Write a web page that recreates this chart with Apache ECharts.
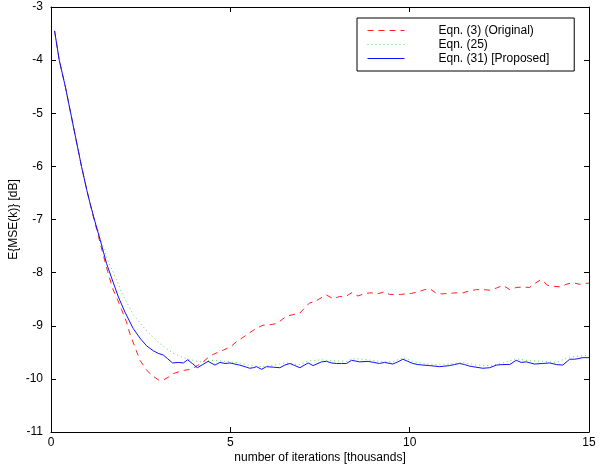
<!DOCTYPE html>
<html>
<head>
<meta charset="utf-8">
<script src="https://cdn.jsdelivr.net/npm/echarts@6/dist/echarts.min.js"></script>
<style>
  html, body { margin: 0; padding: 0; background: #fff; }
  #chart { width: 600px; height: 466px; }
</style>
</head>
<body>
<div id="chart"></div>
<script>
// Learning curves: expected MSE (dB) versus iterations (thousands)
const originalIter = [0.1, 0.23, 0.4, 0.55, 0.7, 0.85, 1.0, 1.18, 1.3, 1.43, 1.58, 1.72, 1.85, 1.97, 2.1, 2.2, 2.35, 2.48, 2.65, 2.8, 3.0, 3.13, 3.27, 3.41, 3.55, 3.69, 3.92, 4.08, 4.24, 4.38, 4.52, 4.66, 4.8, 5.0, 5.17, 5.35, 5.54, 5.72, 5.91, 6.1, 6.29, 6.45, 6.57, 6.75, 6.94, 7.08, 7.21, 7.35, 7.49, 7.68, 7.86, 8.05, 8.24, 8.38, 8.56, 8.75, 8.93, 9.1, 9.3, 9.44, 9.75, 10.05, 10.25, 10.42, 10.56, 10.74, 10.9, 11.11, 11.3, 11.49, 11.68, 11.86, 12.05, 12.23, 12.42, 12.6, 12.79, 12.97, 13.15, 13.34, 13.5, 13.67, 13.85, 14.05, 14.23, 14.36, 14.55, 14.74, 14.92, 15.0];
const originalMse = [-3.45, -4.0, -4.5, -5.0, -5.5, -6.0, -6.45, -6.95, -7.25, -7.6, -7.98, -8.3, -8.5, -8.7, -8.92, -9.15, -9.42, -9.65, -9.82, -9.93, -10.02, -10.02, -9.97, -9.9, -9.87, -9.84, -9.82, -9.75, -9.68, -9.6, -9.54, -9.5, -9.46, -9.4, -9.3, -9.22, -9.13, -9.05, -8.99, -8.98, -8.96, -8.88, -8.82, -8.79, -8.76, -8.66, -8.57, -8.55, -8.49, -8.42, -8.49, -8.45, -8.44, -8.38, -8.44, -8.39, -8.38, -8.4, -8.36, -8.41, -8.41, -8.39, -8.36, -8.32, -8.3, -8.39, -8.4, -8.39, -8.38, -8.38, -8.34, -8.32, -8.32, -8.33, -8.29, -8.24, -8.32, -8.28, -8.27, -8.28, -8.2, -8.13, -8.24, -8.26, -8.27, -8.22, -8.19, -8.22, -8.2, -8.2];

const eq25Iter = [0.1, 0.23, 0.4, 0.55, 0.7, 0.85, 1.0, 1.18, 1.3, 1.42, 1.55, 1.78, 2.01, 2.29, 2.67, 3.04, 3.41, 3.78, 4.15, 4.52, 4.99, 5.25, 5.54, 5.87, 6.2, 6.52, 6.94, 7.17, 7.54, 7.82, 8.24, 8.38, 8.7, 9.16, 9.53, 9.81, 10.09, 10.37, 10.74, 11.11, 11.49, 11.85, 12.23, 12.6, 12.97, 13.34, 13.71, 14.09, 14.46, 14.92, 15.0];
const eq25Mse = [-3.45, -4.0, -4.5, -5.0, -5.5, -6.0, -6.45, -6.92, -7.18, -7.43, -7.72, -8.07, -8.43, -8.79, -9.1, -9.34, -9.52, -9.62, -9.68, -9.65, -9.68, -9.7, -9.75, -9.77, -9.74, -9.7, -9.73, -9.66, -9.64, -9.66, -9.67, -9.62, -9.63, -9.67, -9.68, -9.6, -9.67, -9.71, -9.73, -9.72, -9.69, -9.74, -9.75, -9.7, -9.62, -9.66, -9.67, -9.69, -9.59, -9.56, -9.56];

const proposedIter = [0.1, 0.23, 0.4, 0.55, 0.7, 0.85, 1.0, 1.09, 1.23, 1.37, 1.55, 1.69, 1.88, 2.06, 2.29, 2.5, 2.67, 2.85, 2.99, 3.13, 3.25, 3.39, 3.55, 3.69, 3.81, 3.94, 4.08, 4.23, 4.38, 4.57, 4.71, 4.85, 4.99, 5.12, 5.26, 5.45, 5.54, 5.64, 5.73, 5.87, 6.01, 6.2, 6.38, 6.52, 6.66, 6.8, 6.94, 7.17, 7.31, 7.54, 7.68, 7.82, 7.96, 8.1, 8.24, 8.38, 8.61, 8.84, 9.0, 9.16, 9.3, 9.53, 9.67, 9.81, 9.95, 10.09, 10.23, 10.37, 10.56, 10.84, 11.11, 11.25, 11.39, 11.53, 11.67, 11.85, 12.04, 12.23, 12.42, 12.6, 12.79, 12.97, 13.11, 13.25, 13.48, 13.71, 13.9, 14.09, 14.27, 14.46, 14.6, 14.69, 14.83, 15.0];
const proposedMse = [-3.45, -4.0, -4.5, -5.0, -5.5, -6.0, -6.45, -6.7, -7.05, -7.38, -7.83, -8.1, -8.46, -8.74, -9.05, -9.25, -9.38, -9.47, -9.52, -9.55, -9.62, -9.7, -9.69, -9.7, -9.64, -9.71, -9.79, -9.73, -9.67, -9.74, -9.69, -9.71, -9.7, -9.72, -9.74, -9.78, -9.8, -9.79, -9.77, -9.82, -9.77, -9.78, -9.79, -9.74, -9.71, -9.75, -9.79, -9.7, -9.75, -9.68, -9.67, -9.7, -9.71, -9.71, -9.71, -9.65, -9.68, -9.67, -9.69, -9.71, -9.69, -9.72, -9.68, -9.63, -9.67, -9.71, -9.73, -9.74, -9.75, -9.77, -9.75, -9.73, -9.71, -9.73, -9.76, -9.78, -9.8, -9.79, -9.74, -9.73, -9.73, -9.65, -9.69, -9.68, -9.72, -9.71, -9.7, -9.73, -9.74, -9.63, -9.63, -9.62, -9.6, -9.6];

const xTicks = { min: 0, max: 15, interval: 5 };
const yTicks = { min: -11, max: -3, interval: 1 };

const FONT = '"Liberation Sans", Arial, Helvetica, sans-serif';

function pairs(xs, ys) {
  return xs.map((x, i) => [x, ys[i]]);
}

function frameAxis(base, showLabels, extra) {
  return Object.assign({
    type: 'value',
    min: base.min,
    max: base.max,
    interval: base.interval,
    axisLine: { show: true, onZero: false, lineStyle: { color: '#000', width: 1 } },
    axisTick: { show: true, inside: true, length: 5, lineStyle: { color: '#000', width: 1 } },
    axisLabel: { show: showLabels, color: '#000', fontFamily: FONT, fontSize: 12 },
    splitLine: { show: false }
  }, extra);
}

const chart = echarts.init(document.getElementById('chart'), null, { renderer: 'canvas' });

chart.setOption({
  animation: false,
  backgroundColor: '#fff',
  grid: { left: 51, right: 11, top: 7, bottom: 34, containLabel: false, outerBoundsMode: 'none' },
  xAxis: [
    frameAxis(xTicks, true, {
      position: 'bottom',
      name: 'number of iterations [thousands]',
      nameLocation: 'middle',
      nameGap: 20,
      nameMoveOverlap: false,
      nameTextStyle: { color: '#000', fontFamily: FONT, fontSize: 12 },
      axisLabel: { show: true, color: '#000', fontFamily: FONT, fontSize: 12, margin: 5 }
    }),
    frameAxis(xTicks, false, { position: 'top' })
  ],
  yAxis: [
    frameAxis(yTicks, true, {
      position: 'left',
      name: 'E{MSE(k)} [dB]',
      nameLocation: 'middle',
      nameGap: 31,
      nameMoveOverlap: false,
      nameTextStyle: { color: '#000', fontFamily: FONT, fontSize: 12 },
      axisLabel: { show: true, color: '#000', fontFamily: FONT, fontSize: 12, margin: 8 }
    }),
    frameAxis(yTicks, false, { position: 'right' })
  ],
  legend: {
    orient: 'vertical',
    left: 357,
    top: 18,
    backgroundColor: '#fff',
    borderColor: '#000',
    borderWidth: 1,
    borderRadius: 0,
    padding: [6, 25, 6, 10],
    itemWidth: 37,
    itemHeight: 10,
    itemGap: 1,
    selectedMode: false,
    itemStyle: { opacity: 0 },
    lineStyle: { width: 1 },
    textStyle: { color: '#000', fontFamily: FONT, fontSize: 12, lineHeight: 13, padding: [0, 0, 0, 29] },
    data: ['Eqn. (3) (Original)', 'Eqn. (25)', 'Eqn. (31) [Proposed]']
  },
  series: [
    {
      name: 'Eqn. (3) (Original)',
      type: 'line',
      data: pairs(originalIter, originalMse),
      showSymbol: false,
      symbol: 'none',
      smooth: false,
      z: 3,
      lineStyle: { color: '#ff2020', width: 1, type: [6, 5] },
      itemStyle: { color: '#ff2020' }
    },
    {
      name: 'Eqn. (25)',
      type: 'line',
      data: pairs(eq25Iter, eq25Mse),
      showSymbol: false,
      symbol: 'none',
      smooth: false,
      z: 2,
      lineStyle: { color: '#55e055', width: 1, type: [1, 3] },
      itemStyle: { color: '#55e055' }
    },
    {
      name: 'Eqn. (31) [Proposed]',
      type: 'line',
      data: pairs(proposedIter, proposedMse),
      showSymbol: false,
      symbol: 'none',
      smooth: false,
      z: 4,
      lineStyle: { color: '#1010ff', width: 1 },
      itemStyle: { color: '#1010ff' }
    }
  ]
});
</script>
</body>
</html>
